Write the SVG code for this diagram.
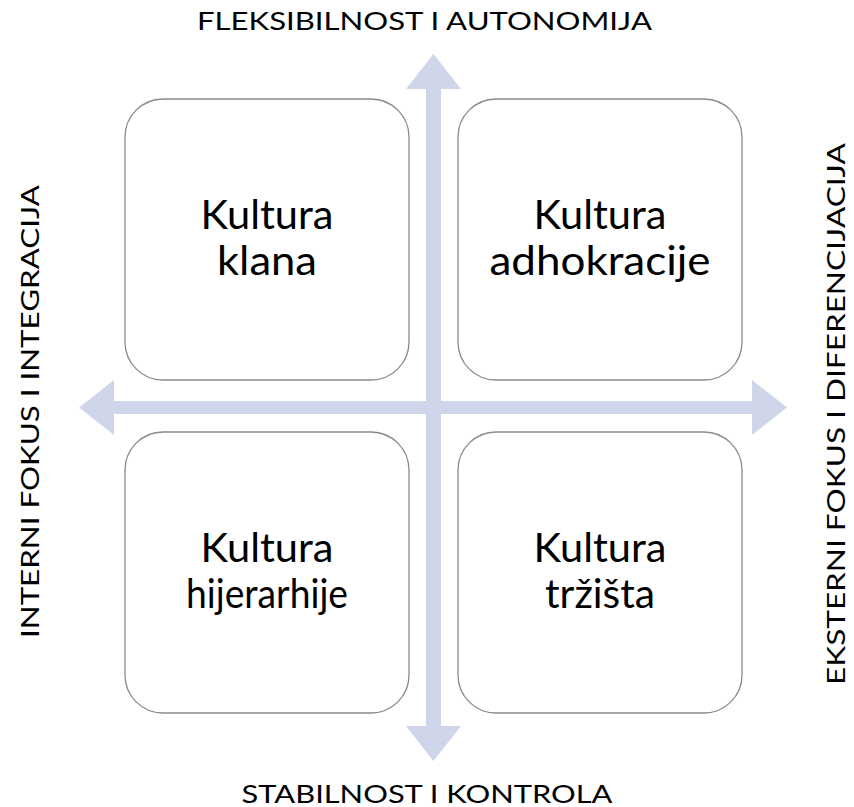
<svg xmlns="http://www.w3.org/2000/svg" width="854" height="807" viewBox="0 0 854 807">
<style>
.box{fill:#fff;stroke:#8a8a8a;stroke-width:1.3}
.arrow{fill:#cfd6ea}
.lbl{font-family:Lato,"Liberation Sans",sans-serif;font-size:41px;fill:#000;text-anchor:middle}
.ax{font-family:Lato,"Liberation Sans",sans-serif;font-size:25px;fill:#000;text-anchor:middle}
</style>
<rect width="854" height="807" fill="#fff"/>
<g id="klan"><rect class="box" x="125" y="99" width="284" height="281" rx="38"/>
<text class="lbl" x="267" y="229" textLength="133" lengthAdjust="spacingAndGlyphs">Kultura</text>
<text class="lbl" x="267" y="275" textLength="100" lengthAdjust="spacingAndGlyphs">klana</text></g>
<g id="adhokracija"><rect class="box" x="458" y="99" width="284" height="281" rx="38"/>
<text class="lbl" x="600" y="229" textLength="133" lengthAdjust="spacingAndGlyphs">Kultura</text>
<text class="lbl" x="600" y="275" textLength="221" lengthAdjust="spacingAndGlyphs">adhokracije</text></g>
<g id="hijerarhija"><rect class="box" x="125" y="432" width="284" height="281" rx="38"/>
<text class="lbl" x="267" y="562" textLength="133" lengthAdjust="spacingAndGlyphs">Kultura</text>
<text class="lbl" x="267" y="608" textLength="162" lengthAdjust="spacingAndGlyphs">hijerarhije</text></g>
<g id="trziste"><rect class="box" x="458" y="432" width="284" height="281" rx="38"/>
<text class="lbl" x="600" y="562" textLength="133" lengthAdjust="spacingAndGlyphs">Kultura</text>
<text class="lbl" x="600" y="608" textLength="110" lengthAdjust="spacingAndGlyphs">tržišta</text></g>
<g id="connectors">
<polygon class="arrow" points="79,407.5 114,380 114,401 752,401 752,380 787,407.5 752,435 752,414 114,414 114,435"/>
<polygon class="arrow" points="433.5,54 461,89 441,89 441,726 461,726 433.5,761 406,726 426,726 426,89 406,89"/>
</g>
<g id="labels">
<text class="ax" x="424.5" y="30" textLength="455" lengthAdjust="spacingAndGlyphs">FLEKSIBILNOST I AUTONOMIJA</text>
<text class="ax" x="427" y="803" textLength="371" lengthAdjust="spacingAndGlyphs">STABILNOST I KONTROLA</text>
<text class="ax" transform="translate(39,411.5) rotate(-90)" x="0" y="0" textLength="453" lengthAdjust="spacingAndGlyphs">INTERNI FOKUS I INTEGRACIJA</text>
<text class="ax" transform="translate(845,414) rotate(-90)" x="0" y="0" textLength="542" lengthAdjust="spacingAndGlyphs">EKSTERNI FOKUS I DIFERENCIJACIJA</text>
</g>
</svg>
